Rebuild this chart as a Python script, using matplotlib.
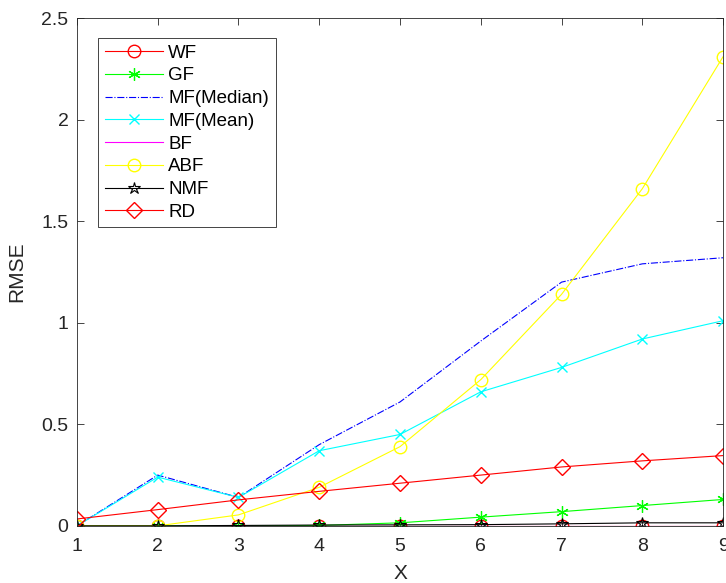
import numpy as np
import matplotlib.pyplot as plt

plt.rcParams['font.family'] = ['Liberation Sans', 'DejaVu Sans']

x = [1, 2, 3, 4, 5, 6, 7, 8, 9]
wf = [0, 0, 0, 0, 0, 0, 0, 0, 0]
gf = [0, 0, 0, 0.002, 0.015, 0.043, 0.07, 0.10, 0.13]
mf_median = [0, 0.25, 0.14, 0.40, 0.61, 0.91, 1.20, 1.29, 1.32]
mf_mean = [0, 0.24, 0.14, 0.37, 0.45, 0.66, 0.78, 0.92, 1.01]
bf = [0, 0, 0, 0, 0, 0, 0, 0, 0]
abf = [0, 0, 0.054, 0.19, 0.39, 0.72, 1.14, 1.66, 2.31]
nmf = [0, 0, 0.002, 0.004, 0.005, 0.006, 0.01, 0.015, 0.015]
rd = [0.034, 0.08, 0.128, 0.17, 0.21, 0.25, 0.29, 0.32, 0.346]

fig = plt.figure(figsize=(7.26, 5.83), dpi=100)
ax = fig.add_axes([0.106, 0.098, 0.89, 0.871])

lw = 0.8
ms = 9
asterisk = (6, 2, 0)
ax.plot(x, wf, color='#ff0000', lw=lw, marker='o', ms=ms, mfc='none', label='WF')
ax.plot(x, gf, color='#00ff00', lw=lw, marker=asterisk, ms=ms, mew=0.9, label='GF')
ax.plot(x, mf_median, color='#0000ff', lw=lw, ls='-.', label='MF(Median)')
ax.plot(x, mf_mean, color='#00ffff', lw=lw, marker='x', ms=7, label='MF(Mean)')
ax.plot(x, bf, color='#ff00ff', lw=lw, label='BF')
ax.plot(x, abf, color='#ffff00', lw=lw, marker='o', ms=ms, mfc='none', label='ABF')
ax.plot(x, nmf, color='black', lw=lw, marker='*', ms=ms, mfc='none', mew=0.8, label='NMF')
ax.plot(x, rd, color='#ff0000', lw=lw, marker='D', ms=ms * 0.85, mfc='none', label='RD')

ax.set_xlim(1, 9)
ax.set_ylim(0, 2.5)
ax.set_xticks(x)
ax.set_yticks([0, 0.5, 1, 1.5, 2, 2.5])
ax.set_yticklabels(['0', '0.5', '1', '1.5', '2', '2.5'])
ax.tick_params(direction='in', top=True, right=True, labelsize=14,
               colors='#262626', length=5, width=0.6)
ax.tick_params(axis='x', pad=9)
ax.tick_params(axis='y', pad=6)
for s in ax.spines.values():
    s.set_color('#262626')
    s.set_linewidth(0.6)
ax.set_xlabel('X', fontsize=15, color='#262626', labelpad=6)
ax.set_ylabel('RMSE', fontsize=15, color='#262626', labelpad=11)

leg = ax.legend(loc='upper left', bbox_to_anchor=(0.0325, 0.961), borderaxespad=0,
                fontsize=13.5, handlelength=3.1, handletextpad=0.3, labelspacing=0.3,
                fancybox=False, framealpha=1, borderpad=0.35)
leg.get_frame().set_edgecolor('#262626')
leg.get_frame().set_linewidth(0.6)

fig.savefig('out.png', dpi=100)
